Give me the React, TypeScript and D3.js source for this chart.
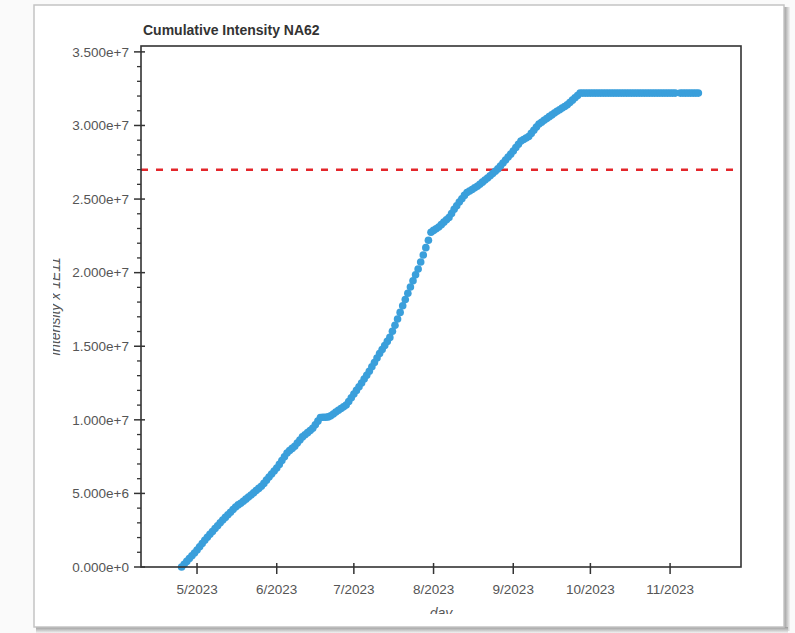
import React from "react"
import * as d3 from "d3"

// cumulative intensity, in millions, one value per day starting 2023-04-25 (null = no reading)
const firstDay = new Date(2023, 3, 25)
const intensityM = [
    0.00, 0.19, 0.38, 0.57, 0.76, 0.95, 1.16, 1.38, 1.59, 1.81,
    2.02, 2.22, 2.41, 2.61, 2.80, 3.00, 3.19, 3.37, 3.55, 3.72,
    3.90, 4.08, 4.22, 4.33, 4.47, 4.61, 4.75, 4.89, 5.04, 5.19,
    5.34, 5.49, 5.68, 5.90, 6.12, 6.32, 6.52, 6.73, 6.97, 7.23,
    7.49, 7.75, 7.92, 8.06, 8.20, 8.42, 8.63, 8.84, 8.99, 9.13,
    9.27, 9.42, 9.66, 9.91, 10.15, 10.17, 10.18, 10.20, 10.27, 10.40,
    10.53, 10.65, 10.77, 10.88, 11.00, 11.25, 11.50, 11.75, 12.00, 12.25,
    12.50, 12.77, 13.03, 13.30, 13.60, 13.90, 14.20, 14.50, 14.78, 15.05,
    15.33, 15.60, 16.02, 16.43, 16.85, 17.30, 17.75, 18.17, 18.60, 19.02,
    19.45, 19.85, 20.25, 20.72, 21.20, 21.70, 22.20, 22.75, 22.87, 22.98,
    23.10, 23.26, 23.43, 23.59, 23.75, 24.02, 24.30, 24.55, 24.80, 25.02,
    25.25, 25.45, 25.55, 25.65, 25.77, 25.87, 26.01, 26.15, 26.29, 26.43,
    26.58, 26.74, 26.89, 27.05, 27.25, 27.45, 27.65, 27.85, 28.05, 28.27,
    28.50, 28.72, 28.95, 29.05, 29.15, 29.25, 29.46, 29.68, 29.89, 30.10,
    30.22, 30.35, 30.47, 30.60, 30.72, 30.85, 30.96, 31.07, 31.18, 31.29,
    31.40, 31.56, 31.72, 31.88, 32.04, 32.20, 32.20, 32.20, 32.20, 32.20,
    32.20, 32.20, 32.20, 32.20, 32.20, 32.20, 32.20, 32.20, 32.20, 32.20,
    32.20, 32.20, 32.20, 32.20, 32.20, 32.20, 32.20, 32.20, 32.20, 32.20,
    32.20, 32.20, 32.20, 32.20, 32.20, 32.20, 32.20, 32.20, 32.20, 32.20,
    32.20, 32.20, 32.20, null, 32.20, 32.20, 32.20, 32.20, 32.20, 32.20,
    32.20, 32.20,
]
const threshold = 2.7e7
const xDomain = [new Date(2023, 3, 9, 5), new Date(2023, 10, 28, 14)]
const yDomain = [0, 3.54e7]
const title = "Cumulative Intensity NA62"
const xTitle = "day"
const yTitle = "Intensity x 1E11"

const W = 795
const H = 633
const left = 141
const right = 741
const top = 46
const bottom = 567
const font = "'Liberation Sans', Arial, sans-serif"

export default function App() {
    const x = d3.scaleTime().domain(xDomain).range([left, right])
    const y = d3.scaleLinear().domain(yDomain).range([bottom, top])

    const points = intensityM
        .map((v, i) => ({ date: d3.timeDay.offset(firstDay, i), v }))
        .filter(d => d.v !== null)

    const majorY = y.ticks(7)
    const minorY = y.ticks(35).filter(t => t % 5e6 !== 0)
    const xTicks = x.ticks(d3.timeMonth.every(1))
    const fmtY = d3.format(".3e")
    const fmtX = d3.timeFormat("%-m/%Y")

    return (
        <div style={{ position: "absolute", left: 0, top: 0 }}>
            <svg width={W} height={H} style={{ display: "block", fontFamily: font }}>
                <defs>
                    <clipPath id="view">
                        <rect x={53} y={6} width={729} height={608} />
                    </clipPath>
                    <linearGradient id="shadowR" x1="0" x2="1" y1="0" y2="0">
                        <stop offset="0%" stopColor="#9a9a9a" />
                        <stop offset="100%" stopColor="#f2f2f2" />
                    </linearGradient>
                    <linearGradient id="shadowB" x1="0" x2="0" y1="0" y2="1">
                        <stop offset="0%" stopColor="#9a9a9a" />
                        <stop offset="100%" stopColor="#f2f2f2" />
                    </linearGradient>
                </defs>
                <rect x={0} y={0} width={W} height={H} fill="#fafafa" />
                {/* window frame */}
                <rect x={784} y={7} width={6} height={624} fill="url(#shadowR)" />
                <rect x={36} y={627} width={752} height={6} fill="url(#shadowB)" />
                <rect x={34} y={5} width={750} height={622} fill="#fff" stroke="#c4c4c4" strokeWidth={1.5} />

                <g clipPath="url(#view)">
                    <text x={143} y={35} fontSize={14} fontWeight="bold" fill="#333">{title}</text>

                    {/* threshold */}
                    <line x1={left} x2={right} y1={y(threshold)} y2={y(threshold)}
                        stroke="#e3262b" strokeWidth={2.5} strokeDasharray="7,8" />

                    {points.map((d, i) => (
                        <circle key={i} cx={x(d.date)} cy={y(d.v * 1e6)} r={3.8} fill="#3a9fdb" />
                    ))}

                    {/* plot box */}
                    <rect x={left} y={top} width={right - left} height={bottom - top}
                        fill="none" stroke="#333" strokeWidth={1.6} />

                    {minorY.map(t => (
                        <line key={"m" + t} x1={137} x2={left} y1={y(t)} y2={y(t)} stroke="#333" strokeWidth={1.3} />
                    ))}
                    {majorY.map(t => (
                        <g key={"M" + t}>
                            <line x1={134} x2={145} y1={y(t)} y2={y(t)} stroke="#333" strokeWidth={1.5} />
                            <text x={129} y={y(t)} dy="0.35em" textAnchor="end" fontSize={13.5} fill="#555">{fmtY(t)}</text>
                        </g>
                    ))}
                    {xTicks.map(t => (
                        <g key={+t}>
                            <line x1={x(t)} x2={x(t)} y1={563} y2={574} stroke="#333" strokeWidth={1.5} />
                            <text x={x(t)} y={594} textAnchor="middle" fontSize={13.5} fill="#555">{fmtX(t)}</text>
                        </g>
                    ))}

                    <text x={(left + right) / 2} y={618} textAnchor="middle" fontSize={14} fontStyle="italic" fill="#555">{xTitle}</text>
                    <text transform={`translate(60,${(top + bottom) / 2}) rotate(-90)`} textAnchor="middle"
                        fontSize={14} fontStyle="italic" fill="#555">{yTitle}</text>
                </g>
            </svg>
        </div>
    )
}
